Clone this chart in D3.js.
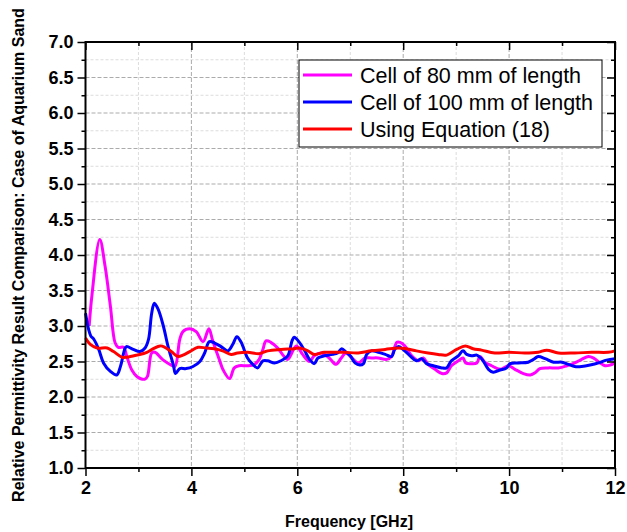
<!DOCTYPE html>
<html><head><meta charset="utf-8">
<script src="https://cdn.jsdelivr.net/npm/d3@7"></script>
<style>body{margin:0;background:#fff}svg{display:block}</style>
</head><body>
<svg id="c" width="627" height="532"></svg>
<script>
const seriesNames = ["Cell of 80 mm of length", "Cell of 100 mm of length", "Using Equation (18)"];
const seriesColors = ["#ff00ff", "#0000ff", "#ff0000"];
const xTicks = [2, 4, 6, 8, 10, 12];
const yTicks = [1.0, 1.5, 2.0, 2.5, 3.0, 3.5, 4.0, 4.5, 5.0, 5.5, 6.0, 6.5, 7.0];

const cell80 = [[2.07,3.0],[2.12,3.42],[2.27,4.22],[2.37,3.84],[2.47,3.28],[2.56,2.76],[2.62,2.7],[2.72,2.7],[2.78,2.57],[2.875,2.38],[2.97,2.29],[3.12,2.25],[3.17,2.29],[3.25,2.62],[3.31,2.63],[3.47,2.52],[3.62,2.45],[3.69,2.43],[3.78,2.81],[3.84,2.92],[3.97,2.96],[4.09,2.92],[4.22,2.78],[4.33,2.96],[4.4,2.8],[4.53,2.52],[4.6,2.38],[4.72,2.26],[4.81,2.41],[4.9,2.44],[5.06,2.44],[5.19,2.46],[5.28,2.53],[5.35,2.67],[5.41,2.79],[5.5,2.77],[5.63,2.69],[5.72,2.6],[5.82,2.53],[5.98,2.72],[6.1,2.6],[6.23,2.5],[6.32,2.58],[6.45,2.62],[6.6,2.55],[6.73,2.46],[6.83,2.55],[6.92,2.62],[7.03,2.55],[7.15,2.48],[7.28,2.55],[7.4,2.55],[7.53,2.55],[7.69,2.53],[7.78,2.57],[7.88,2.77],[7.94,2.77],[8.03,2.72],[8.16,2.58],[8.29,2.51],[8.38,2.55],[8.47,2.46],[8.6,2.39],[8.73,2.33],[8.82,2.34],[8.91,2.44],[9.04,2.51],[9.13,2.55],[9.18,2.48],[9.29,2.47],[9.39,2.48],[9.45,2.57],[9.54,2.49],[9.67,2.44],[9.83,2.39],[9.99,2.44],[10.11,2.39],[10.27,2.33],[10.4,2.31],[10.49,2.34],[10.58,2.4],[10.74,2.41],[10.93,2.41],[11.09,2.44],[11.24,2.48],[11.37,2.53],[11.5,2.57],[11.59,2.55],[11.72,2.48],[11.81,2.44],[11.91,2.45],[12.0,2.48]];

const cell100 = [[2.0,3.18],[2.06,2.95],[2.1,2.86],[2.16,2.81],[2.25,2.67],[2.34,2.48],[2.47,2.36],[2.59,2.31],[2.66,2.43],[2.75,2.69],[2.78,2.71],[2.9,2.67],[3.03,2.64],[3.125,2.69],[3.19,2.81],[3.25,3.18],[3.3,3.32],[3.375,3.23],[3.47,3.0],[3.56,2.71],[3.66,2.45],[3.7,2.33],[3.78,2.4],[3.9,2.4],[4.03,2.43],[4.16,2.5],[4.25,2.62],[4.34,2.78],[4.44,2.76],[4.56,2.71],[4.69,2.65],[4.78,2.74],[4.86,2.85],[4.94,2.77],[5.06,2.55],[5.16,2.46],[5.25,2.41],[5.35,2.51],[5.44,2.51],[5.57,2.48],[5.69,2.51],[5.82,2.58],[5.9,2.79],[5.94,2.84],[6.04,2.77],[6.14,2.65],[6.23,2.53],[6.32,2.47],[6.39,2.55],[6.51,2.58],[6.67,2.6],[6.76,2.62],[6.84,2.68],[6.92,2.63],[7.0,2.58],[7.09,2.48],[7.18,2.45],[7.25,2.47],[7.31,2.6],[7.4,2.65],[7.53,2.63],[7.66,2.6],[7.78,2.57],[7.84,2.67],[7.91,2.71],[8.0,2.67],[8.13,2.58],[8.25,2.51],[8.35,2.54],[8.44,2.47],[8.57,2.44],[8.73,2.41],[8.82,2.41],[8.91,2.51],[9.04,2.58],[9.13,2.65],[9.2,2.6],[9.29,2.58],[9.39,2.59],[9.45,2.56],[9.51,2.51],[9.61,2.39],[9.7,2.35],[9.83,2.38],[9.95,2.41],[10.02,2.47],[10.17,2.48],[10.36,2.49],[10.46,2.53],[10.55,2.57],[10.68,2.54],[10.84,2.49],[11.0,2.49],[11.12,2.46],[11.24,2.43],[11.37,2.43],[11.53,2.45],[11.69,2.48],[11.84,2.52],[12.0,2.54]];

const equation18 = [[2.0,2.83],[2.09,2.74],[2.22,2.69],[2.41,2.69],[2.53,2.64],[2.69,2.56],[2.78,2.56],[2.97,2.59],[3.16,2.63],[3.28,2.68],[3.41,2.72],[3.5,2.7],[3.62,2.64],[3.75,2.57],[3.84,2.59],[3.97,2.64],[4.125,2.7],[4.28,2.69],[4.43,2.68],[4.59,2.65],[4.75,2.6],[4.87,2.62],[5.06,2.63],[5.28,2.61],[5.44,2.65],[5.69,2.67],[5.94,2.68],[6.04,2.69],[6.2,2.65],[6.32,2.6],[6.51,2.63],[6.7,2.63],[6.89,2.63],[7.15,2.62],[7.4,2.65],[7.66,2.67],[7.91,2.69],[8.06,2.68],[8.25,2.65],[8.47,2.62],[8.66,2.6],[8.82,2.59],[9.01,2.67],[9.17,2.72],[9.32,2.68],[9.48,2.66],[9.73,2.62],[9.99,2.63],[10.3,2.62],[10.55,2.63],[10.71,2.66],[10.93,2.62],[11.24,2.62],[11.56,2.63],[11.87,2.63],[12.0,2.65]];

const allSeries = [cell80, cell100, equation18];

const L = 85.5, R = 615, T = 42, B = 468;
const x = d3.scaleLinear().domain([2, 12]).range([L, R]);
const y = d3.scaleLinear().domain([1, 7]).range([B, T]);
const svg = d3.select("#c");
const font = "'Liberation Sans', Arial, sans-serif";

// grid
const xMinor = d3.range(3, 12, 2);
const xMajorInner = [4, 6, 8, 10];
const yMinor = d3.range(1.25, 7, 0.5);
const yMajorInner = d3.range(1.5, 6.75, 0.5);
const g = svg.append("g");
g.selectAll(".xm").data(xMinor).join("line").attr("x1", d => x(d)).attr("x2", d => x(d)).attr("y1", T).attr("y2", B)
  .attr("stroke", "#dcdcdc").attr("stroke-width", 1).attr("stroke-dasharray", "3,2");
g.selectAll(".ym").data(yMinor).join("line").attr("y1", d => y(d)).attr("y2", d => y(d)).attr("x1", L).attr("x2", R)
  .attr("stroke", "#dcdcdc").attr("stroke-width", 1).attr("stroke-dasharray", "3,2");
g.selectAll(".xM").data(xMajorInner).join("line").attr("x1", d => x(d)).attr("x2", d => x(d)).attr("y1", T).attr("y2", B)
  .attr("stroke", "#ababab").attr("stroke-width", 1).attr("stroke-dasharray", "4,2");
g.selectAll(".yM").data(yMajorInner).join("line").attr("y1", d => y(d)).attr("y2", d => y(d)).attr("x1", L).attr("x2", R)
  .attr("stroke", "#ababab").attr("stroke-width", 1).attr("stroke-dasharray", "4,2");

// lines
const line = d3.line().x(d => x(d[0])).y(d => y(d[1])).curve(d3.curveCatmullRom.alpha(0.5));
allSeries.forEach((s, i) => {
  svg.append("path").datum(s).attr("d", line).attr("fill", "none")
    .attr("stroke", seriesColors[i]).attr("stroke-width", 3).attr("stroke-linejoin", "round");
});

// axes
function styleAxis(sel) {
  sel.select(".domain").remove();
  sel.selectAll("line").attr("stroke", "#000").attr("stroke-width", 1.5);
}
const yMinorTicks = d3.range(1.25, 7, 0.5);
const xMinorTicks = d3.range(3, 12, 2);
// left
svg.append("g").attr("transform", `translate(${L},0)`)
  .call(d3.axisLeft(y).tickValues(yTicks).tickSize(8).tickPadding(4).tickFormat(d3.format(".1f")))
  .call(styleAxis)
  .call(s => s.selectAll("text").attr("font-family", font).attr("font-weight", "bold").attr("font-size", 18).attr("fill", "#000"));
svg.append("g").attr("transform", `translate(${L},0)`)
  .call(d3.axisLeft(y).tickValues(yMinorTicks).tickSize(4).tickFormat(""))
  .call(styleAxis);
// right (inward)
svg.append("g").attr("transform", `translate(${R},0)`)
  .call(d3.axisLeft(y).tickValues(yTicks).tickSize(8).tickFormat("")).call(styleAxis);
svg.append("g").attr("transform", `translate(${R},0)`)
  .call(d3.axisLeft(y).tickValues(yMinorTicks).tickSize(4).tickFormat("")).call(styleAxis);
// bottom
svg.append("g").attr("transform", `translate(0,${B})`)
  .call(d3.axisBottom(x).tickValues(xTicks).tickSize(8).tickPadding(5).tickFormat(d3.format("d")))
  .call(styleAxis)
  .call(s => s.selectAll("text").attr("font-family", font).attr("font-weight", "bold").attr("font-size", 18).attr("fill", "#000"));
svg.append("g").attr("transform", `translate(0,${B})`)
  .call(d3.axisBottom(x).tickValues(xMinorTicks).tickSize(4).tickFormat("")).call(styleAxis);
// top (inward)
svg.append("g").attr("transform", `translate(0,${T})`)
  .call(d3.axisBottom(x).tickValues(xTicks).tickSize(8).tickFormat("")).call(styleAxis);
svg.append("g").attr("transform", `translate(0,${T})`)
  .call(d3.axisBottom(x).tickValues(xMinorTicks).tickSize(4).tickFormat("")).call(styleAxis);

// frame
svg.append("rect").attr("x", L).attr("y", T).attr("width", R - L).attr("height", B - T)
  .attr("fill", "none").attr("stroke", "#000").attr("stroke-width", 2);

// titles
svg.append("text").attr("x", 349).attr("y", 527).attr("text-anchor", "middle")
  .attr("font-family", font).attr("font-weight", "bold").attr("font-size", 16).text("Frequency [GHz]");
svg.append("text").attr("transform", `translate(24,255) rotate(-90)`).attr("text-anchor", "middle")
  .attr("font-family", font).attr("font-weight", "bold").attr("font-size", 16)
  .text("Relative Permittivity Result Comparison: Case of Aquarium Sand");

// legend
const lg = svg.append("g");
lg.append("rect").attr("x", 299).attr("y", 60).attr("width", 303).attr("height", 87)
  .attr("fill", "#fff").attr("stroke", "#000").attr("stroke-width", 1);
seriesNames.forEach((n, i) => {
  const yy = 75 + i * 27;
  lg.append("line").attr("x1", 303).attr("x2", 352).attr("y1", yy).attr("y2", yy)
    .attr("stroke", seriesColors[i]).attr("stroke-width", 3);
  lg.append("text").attr("x", 360).attr("y", yy).attr("dy", "0.36em")
    .attr("font-family", font).attr("font-size", 21.5).attr("fill", "#000").text(n);
});
</script>
</body></html>
